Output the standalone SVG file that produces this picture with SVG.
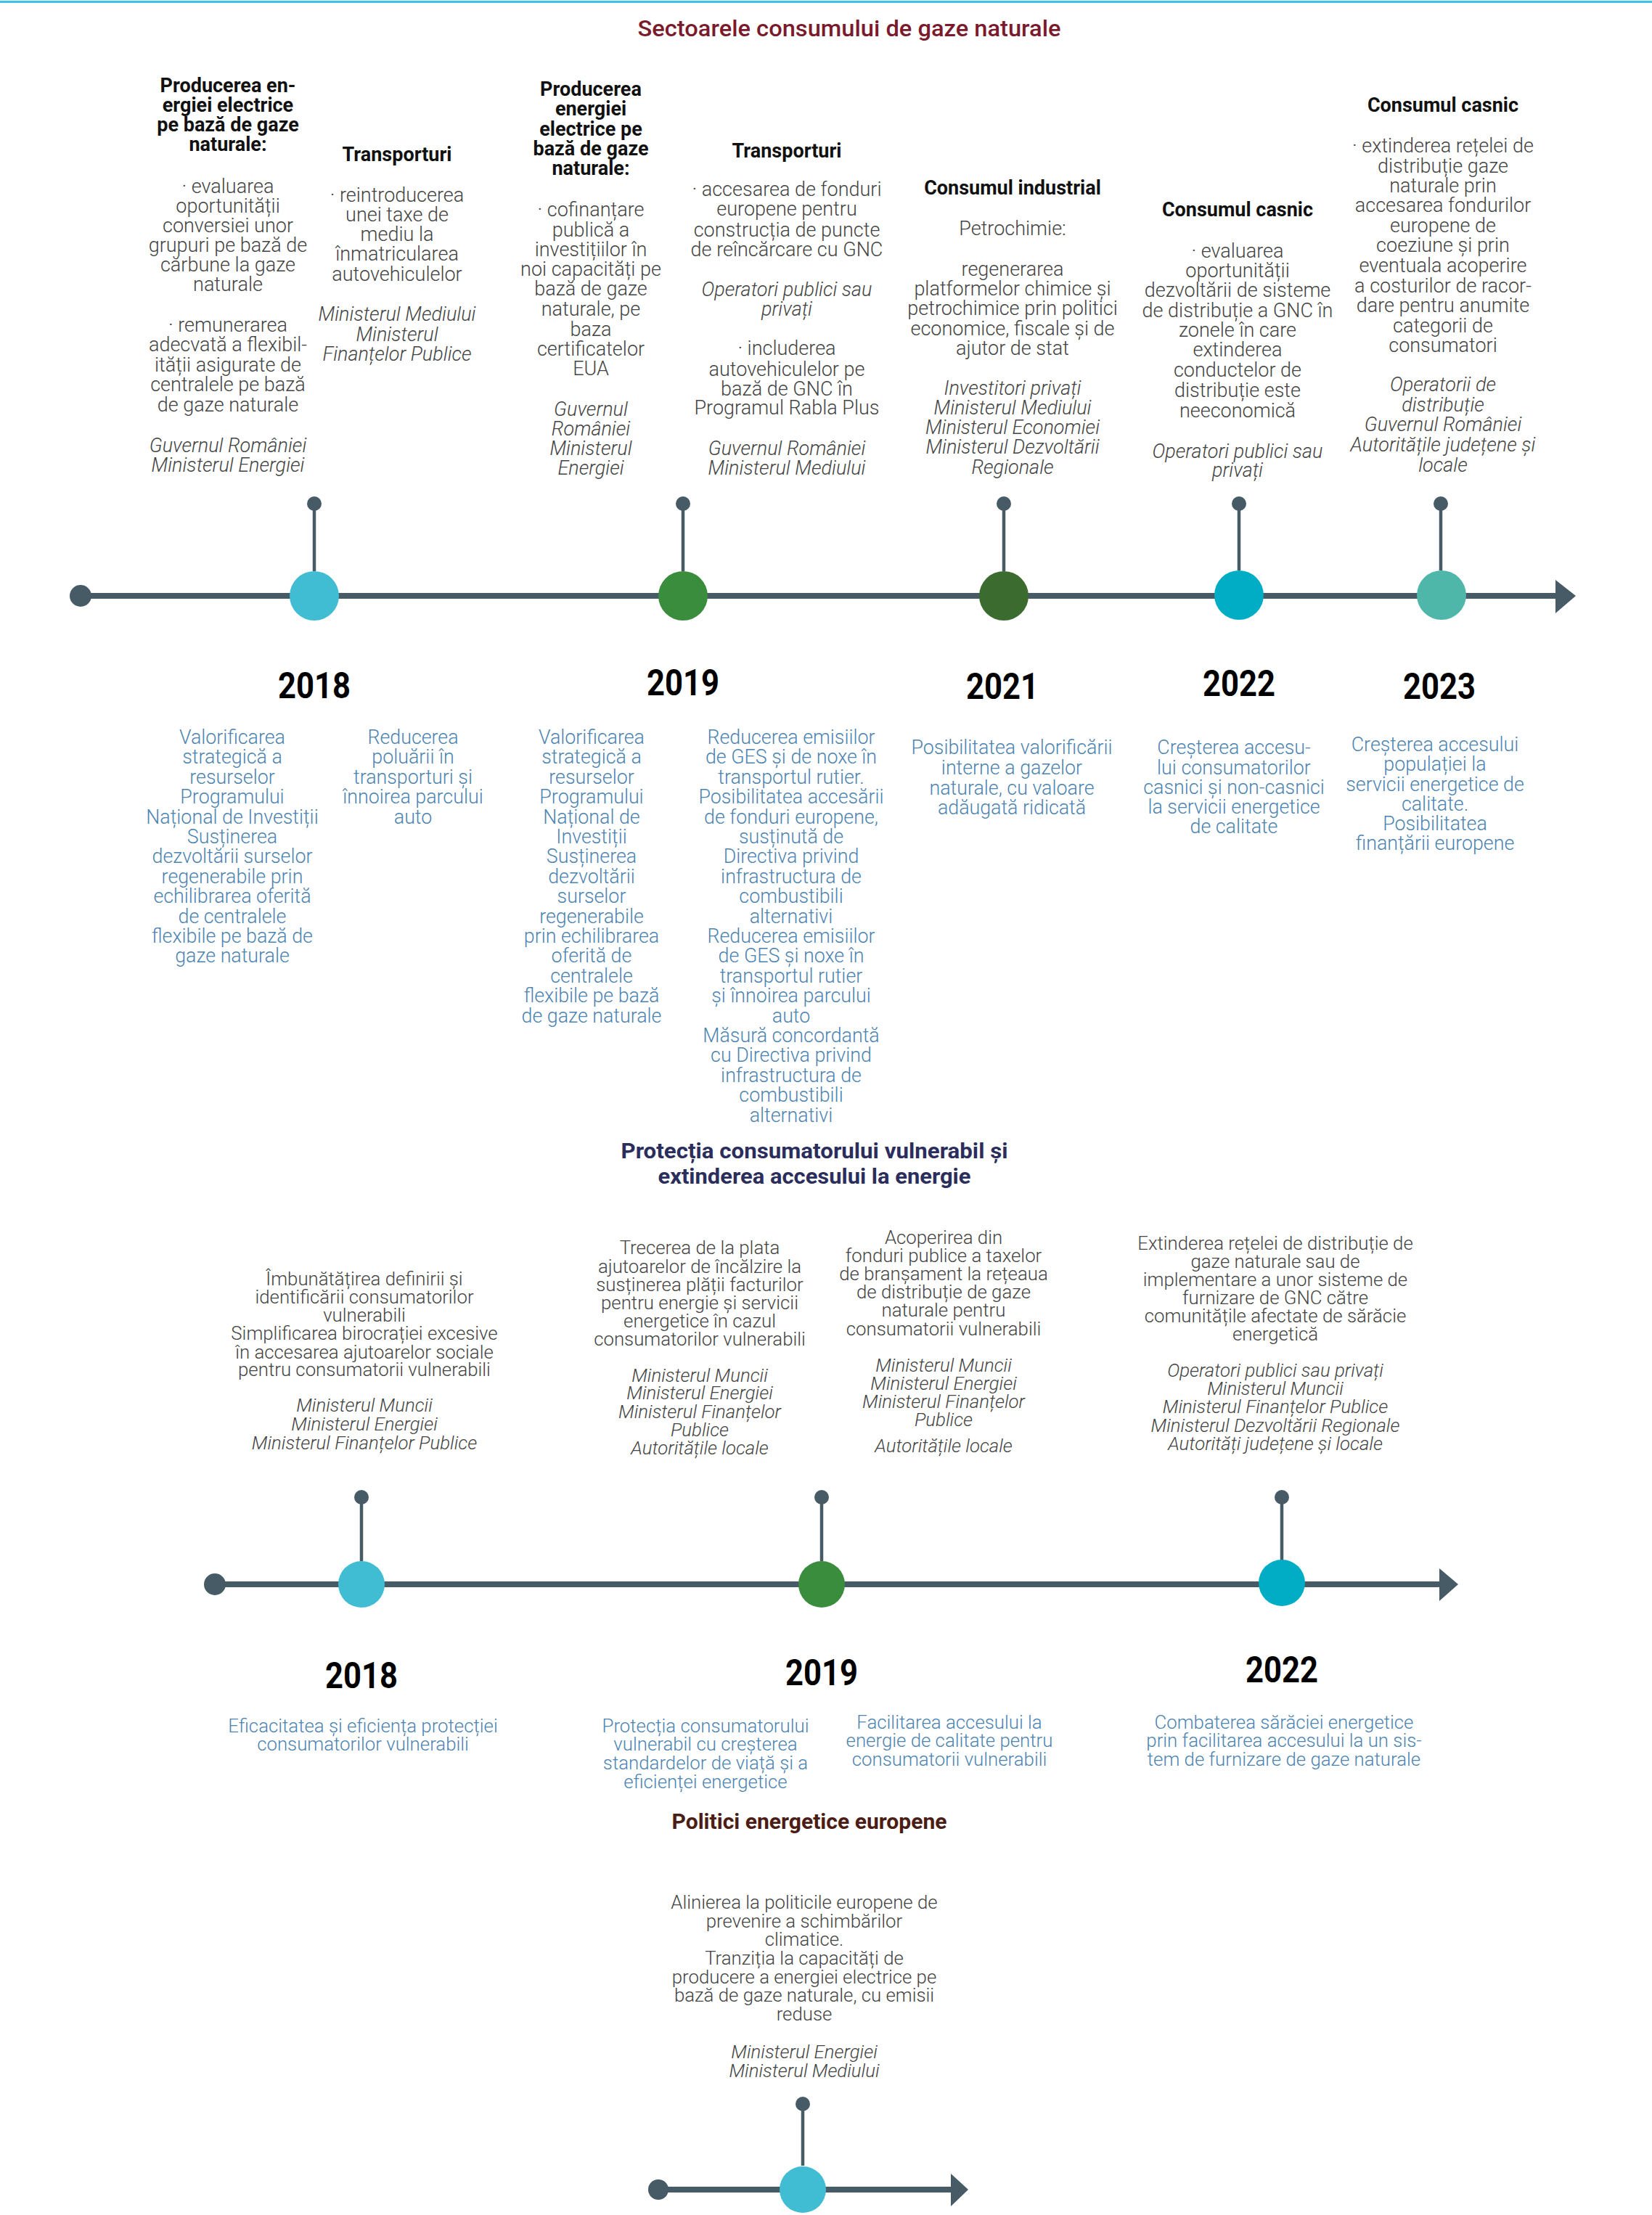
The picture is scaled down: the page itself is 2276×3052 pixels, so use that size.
<svg xmlns="http://www.w3.org/2000/svg" width="2276" height="3052" viewBox="0 0 2276 3052">
<style>
text{font-family:Roboto,"Liberation Sans",sans-serif;text-anchor:middle}
.t{font-size:27px;font-weight:300;fill:#444}
.s{font-size:25.8px;font-weight:300;fill:#444}
.i{font-style:italic}
.h{font-size:27px;font-weight:700;fill:#111}
.bl{font-size:26.8px;font-weight:300;fill:#4d84b1}
.bs{font-size:25.8px;font-weight:300;fill:#4d84b1}
.y{font-size:50px;font-weight:700;fill:#000}
.axis{stroke:#475b66;stroke-width:8;fill:none}
.stem{stroke:#475b66;stroke-width:4.5}
.dk{fill:#475b66}
</style>
<rect width="2276" height="3052" fill="#fff"/>
<rect x="0" y="1" width="2276" height="3" fill="#3ec3e6"/>
<text x="1170" y="50" style="font-size:32px;font-weight:500;fill:#7b1a2c" textLength="583" lengthAdjust="spacingAndGlyphs">Sectoarele consumului de gaze naturale</text>

<g id="connectors">
<line class="axis" x1="111" y1="821" x2="2150" y2="821"/>
<polygon class="dk" points="2143,799 2171,821 2143,845"/>
<circle class="dk" cx="111" cy="821" r="15"/>
<line class="axis" x1="296" y1="2183" x2="1990" y2="2183"/>
<polygon class="dk" points="1983,2161 2009,2183 1983,2206"/>
<circle class="dk" cx="296" cy="2183" r="15"/>
<line class="axis" x1="907" y1="3017" x2="1315" y2="3017"/>
<polygon class="dk" points="1310,2995 1334,3017 1310,3040"/>
<circle class="dk" cx="907" cy="3017" r="14"/>
</g>

<!-- Timeline 1 -->
<g id="n2018a">
<line class="stem" x1="433" y1="694" x2="433" y2="787"/>
<circle class="dk" cx="433" cy="694" r="10"/>
<circle cx="433" cy="821" r="34" fill="#40bdd3"/>
<text class="y" x="433" y="962" textLength="100" lengthAdjust="spacingAndGlyphs">2018</text>
<text class="h"><tspan x="314" y="127">Producerea en-</tspan><tspan x="314" y="154">ergiei electrice</tspan><tspan x="314" y="181">pe bază de gaze</tspan><tspan x="314" y="208">naturale:</tspan></text>
<text class="t"><tspan x="314" y="266">· evaluarea</tspan><tspan x="314" y="293">oportunității</tspan><tspan x="314" y="320">conversiei unor</tspan><tspan x="314" y="347">grupuri pe bază de</tspan><tspan x="314" y="374">cărbune la gaze</tspan><tspan x="314" y="401">naturale</tspan><tspan x="314" y="457">· remunerarea</tspan><tspan x="314" y="484">adecvată a flexibil-</tspan><tspan x="314" y="512">ității asigurate de</tspan><tspan x="314" y="539">centralele pe bază</tspan><tspan x="314" y="567">de gaze naturale</tspan></text>
<text class="t i"><tspan x="314" y="623">Guvernul României</tspan><tspan x="314" y="650">Ministerul Energiei</tspan></text>
<text class="h"><tspan x="547" y="222">Transporturi</tspan></text>
<text class="t"><tspan x="547" y="278">· reintroducerea</tspan><tspan x="547" y="305">unei taxe de</tspan><tspan x="547" y="332">mediu la</tspan><tspan x="547" y="359">înmatricularea</tspan><tspan x="547" y="387">autovehiculelor</tspan></text>
<text class="t i"><tspan x="547" y="442">Ministerul Mediului</tspan><tspan x="547" y="470">Ministerul</tspan><tspan x="547" y="497">Finanțelor Publice</tspan></text>
<text class="bl"><tspan x="320" y="1025">Valorificarea</tspan><tspan x="320" y="1052.4">strategică a</tspan><tspan x="320" y="1079.8">resurselor</tspan><tspan x="320" y="1107.2">Programului</tspan><tspan x="320" y="1134.6">Național de Investiții</tspan><tspan x="320" y="1162">Susținerea</tspan><tspan x="320" y="1189.4">dezvoltării surselor</tspan><tspan x="320" y="1216.8">regenerabile prin</tspan><tspan x="320" y="1244.2">echilibrarea oferită</tspan><tspan x="320" y="1271.6">de centralele</tspan><tspan x="320" y="1299">flexibile pe bază de</tspan><tspan x="320" y="1326.4">gaze naturale</tspan></text>
<text class="bl"><tspan x="569" y="1025">Reducerea</tspan><tspan x="569" y="1052.4">poluării în</tspan><tspan x="569" y="1079.8">transporturi și</tspan><tspan x="569" y="1107.2">înnoirea parcului</tspan><tspan x="569" y="1134.6">auto</tspan></text>
</g>

<g id="n2019a">
<line class="stem" x1="941" y1="694" x2="941" y2="787"/>
<circle class="dk" cx="941" cy="694" r="10"/>
<circle cx="941" cy="821" r="34" fill="#3a8d3c"/>
<text class="y" x="941" y="958" textLength="100" lengthAdjust="spacingAndGlyphs">2019</text>
<text class="h"><tspan x="814" y="132">Producerea</tspan><tspan x="814" y="159">energiei</tspan><tspan x="814" y="187">electrice pe</tspan><tspan x="814" y="214">bază de gaze</tspan><tspan x="814" y="241">naturale:</tspan></text>
<text class="t"><tspan x="814" y="298">· cofinanțare</tspan><tspan x="814" y="326">publică a</tspan><tspan x="814" y="353">investițiilor în</tspan><tspan x="814" y="380">noi capacități pe</tspan><tspan x="814" y="407">bază de gaze</tspan><tspan x="814" y="435">naturale, pe</tspan><tspan x="814" y="463">baza</tspan><tspan x="814" y="490">certificatelor</tspan><tspan x="814" y="517">EUA</tspan></text>
<text class="t i"><tspan x="814" y="573">Guvernul</tspan><tspan x="814" y="600">României</tspan><tspan x="814" y="627">Ministerul</tspan><tspan x="814" y="654">Energiei</tspan></text>
<text class="h"><tspan x="1084" y="217">Transporturi</tspan></text>
<text class="t"><tspan x="1084" y="270">· accesarea de fonduri</tspan><tspan x="1084" y="297">europene pentru</tspan><tspan x="1084" y="326">construcția de puncte</tspan><tspan x="1084" y="353">de reîncărcare cu GNC</tspan></text>
<text class="t i"><tspan x="1084" y="408">Operatori publici sau</tspan><tspan x="1084" y="435">privați</tspan></text>
<text class="t"><tspan x="1084" y="489">· includerea</tspan><tspan x="1084" y="518">autovehiculelor pe</tspan><tspan x="1084" y="545">bază de GNC în</tspan><tspan x="1084" y="571">Programul Rabla Plus</tspan></text>
<text class="t i"><tspan x="1084" y="627">Guvernul României</tspan><tspan x="1084" y="654">Ministerul Mediului</tspan></text>
<text class="bl"><tspan x="815" y="1025">Valorificarea</tspan><tspan x="815" y="1052.4">strategică a</tspan><tspan x="815" y="1079.8">resurselor</tspan><tspan x="815" y="1107.2">Programului</tspan><tspan x="815" y="1134.6">Național de</tspan><tspan x="815" y="1162">Investiții</tspan><tspan x="815" y="1189.4">Susținerea</tspan><tspan x="815" y="1216.8">dezvoltării</tspan><tspan x="815" y="1244.2">surselor</tspan><tspan x="815" y="1271.6">regenerabile</tspan><tspan x="815" y="1299">prin echilibrarea</tspan><tspan x="815" y="1326.4">oferită de</tspan><tspan x="815" y="1353.8">centralele</tspan><tspan x="815" y="1381.2">flexibile pe bază</tspan><tspan x="815" y="1408.6">de gaze naturale</tspan></text>
<text class="bl"><tspan x="1090" y="1025">Reducerea emisiilor</tspan><tspan x="1090" y="1052.4">de GES și de noxe în</tspan><tspan x="1090" y="1079.8">transportul rutier.</tspan><tspan x="1090" y="1107.2">Posibilitatea accesării</tspan><tspan x="1090" y="1134.6">de fonduri europene,</tspan><tspan x="1090" y="1162">susținută de</tspan><tspan x="1090" y="1189.4">Directiva privind</tspan><tspan x="1090" y="1216.8">infrastructura de</tspan><tspan x="1090" y="1244.2">combustibili</tspan><tspan x="1090" y="1271.6">alternativi</tspan><tspan x="1090" y="1299">Reducerea emisiilor</tspan><tspan x="1090" y="1326.4">de GES și noxe în</tspan><tspan x="1090" y="1353.8">transportul rutier</tspan><tspan x="1090" y="1381.2">și înnoirea parcului</tspan><tspan x="1090" y="1408.6">auto</tspan><tspan x="1090" y="1436">Măsură concordantă</tspan><tspan x="1090" y="1463.4">cu Directiva privind</tspan><tspan x="1090" y="1490.8">infrastructura de</tspan><tspan x="1090" y="1518.2">combustibili</tspan><tspan x="1090" y="1545.6">alternativi</tspan></text>
</g>

<g id="n2021a">
<line class="stem" x1="1383" y1="694" x2="1383" y2="787"/>
<circle class="dk" cx="1383" cy="694" r="10"/>
<circle cx="1383" cy="821" r="34" fill="#3c6b2f"/>
<text class="y" x="1381" y="963" textLength="100" lengthAdjust="spacingAndGlyphs">2021</text>
<text class="h"><tspan x="1395" y="268">Consumul industrial</tspan></text>
<text class="t"><tspan x="1395" y="324">Petrochimie:</tspan><tspan x="1395" y="380">regenerarea</tspan><tspan x="1395" y="407">platformelor chimice și</tspan><tspan x="1395" y="434">petrochimice prin politici</tspan><tspan x="1395" y="462">economice, fiscale și de</tspan><tspan x="1395" y="489">ajutor de stat</tspan></text>
<text class="t i"><tspan x="1395" y="544">Investitori privați</tspan><tspan x="1395" y="571">Ministerul Mediului</tspan><tspan x="1395" y="598">Ministerul Economiei</tspan><tspan x="1395" y="625">Ministerul Dezvoltării</tspan><tspan x="1395" y="653">Regionale</tspan></text>
<text class="bl"><tspan x="1394" y="1039">Posibilitatea valorificării</tspan><tspan x="1394" y="1067">interne a gazelor</tspan><tspan x="1394" y="1095">naturale, cu valoare</tspan><tspan x="1394" y="1122">adăugată ridicată</tspan></text>
</g>

<g id="n2022a">
<line class="stem" x1="1707" y1="694" x2="1707" y2="786"/>
<circle class="dk" cx="1707" cy="694" r="10"/>
<circle cx="1707" cy="820" r="34" fill="#00adc5"/>
<text class="y" x="1707" y="959" textLength="100" lengthAdjust="spacingAndGlyphs">2022</text>
<text class="h"><tspan x="1705" y="298">Consumul casnic</tspan></text>
<text class="t"><tspan x="1705" y="355">· evaluarea</tspan><tspan x="1705" y="382">oportunității</tspan><tspan x="1705" y="409">dezvoltării de sisteme</tspan><tspan x="1705" y="437">de distribuție a GNC în</tspan><tspan x="1705" y="464">zonele în care</tspan><tspan x="1705" y="491">extinderea</tspan><tspan x="1705" y="519">conductelor de</tspan><tspan x="1705" y="547">distribuție este</tspan><tspan x="1705" y="575">neeconomică</tspan></text>
<text class="t i"><tspan x="1705" y="631">Operatori publici sau</tspan><tspan x="1705" y="657">privați</tspan></text>
<text class="bl"><tspan x="1700" y="1039">Creșterea accesu-</tspan><tspan x="1700" y="1067">lui consumatorilor</tspan><tspan x="1700" y="1094">casnici și non-casnici</tspan><tspan x="1700" y="1121">la servicii energetice</tspan><tspan x="1700" y="1148">de calitate</tspan></text>
</g>

<g id="n2023a">
<line class="stem" x1="1985" y1="694" x2="1985" y2="786"/>
<circle class="dk" cx="1985" cy="694" r="10"/>
<circle cx="1986" cy="820" r="34" fill="#4fb6aa"/>
<text class="y" x="1983" y="963" textLength="100" lengthAdjust="spacingAndGlyphs">2023</text>
<text class="h"><tspan x="1988" y="154">Consumul casnic</tspan></text>
<text class="t"><tspan x="1988" y="210">· extinderea rețelei de</tspan><tspan x="1988" y="238">distribuție gaze</tspan><tspan x="1988" y="265">naturale prin</tspan><tspan x="1988" y="292">accesarea fondurilor</tspan><tspan x="1988" y="320">europene de</tspan><tspan x="1988" y="347">coeziune și prin</tspan><tspan x="1988" y="375">eventuala acoperire</tspan><tspan x="1988" y="403">a costurilor de racor-</tspan><tspan x="1988" y="430">dare pentru anumite</tspan><tspan x="1988" y="458">categorii de</tspan><tspan x="1988" y="485">consumatori</tspan></text>
<text class="t i"><tspan x="1988" y="539">Operatorii de</tspan><tspan x="1988" y="567">distribuție</tspan><tspan x="1988" y="594">Guvernul României</tspan><tspan x="1988" y="622">Autoritățile județene și</tspan><tspan x="1988" y="650">locale</tspan></text>
<text class="bl"><tspan x="1977" y="1035">Creșterea accesului</tspan><tspan x="1977" y="1062">populației la</tspan><tspan x="1977" y="1090">servicii energetice de</tspan><tspan x="1977" y="1117">calitate.</tspan><tspan x="1977" y="1144">Posibilitatea</tspan><tspan x="1977" y="1171">finanțării europene</tspan></text>
</g>

<!-- Section 2 -->
<text style="font-size:29px;font-weight:700;fill:#2b2e5c"><tspan x="1122" y="1596" textLength="533" lengthAdjust="spacingAndGlyphs">Protecția consumatorului vulnerabil și</tspan></text>
<text style="font-size:29px;font-weight:700;fill:#2b2e5c"><tspan x="1122" y="1631" textLength="431" lengthAdjust="spacingAndGlyphs">extinderea accesului la energie</tspan></text>

<g id="n2018b">
<line class="stem" x1="498" y1="2063" x2="498" y2="2151"/>
<circle class="dk" cx="498" cy="2063" r="10"/>
<circle cx="498" cy="2183" r="32" fill="#40bdd3"/>
<text class="y" x="498" y="2326" textLength="100" lengthAdjust="spacingAndGlyphs">2018</text>
<text class="s"><tspan x="502" y="1771">Îmbunătățirea definirii și</tspan><tspan x="502" y="1796">identificării consumatorilor</tspan><tspan x="502" y="1821">vulnerabili</tspan><tspan x="502" y="1846">Simplificarea birocrației excesive</tspan><tspan x="502" y="1872">în accesarea ajutoarelor sociale</tspan><tspan x="502" y="1896">pentru consumatorii vulnerabili</tspan></text>
<text class="s i"><tspan x="502" y="1945">Ministerul Muncii</tspan><tspan x="502" y="1971">Ministerul Energiei</tspan><tspan x="502" y="1997">Ministerul Finanțelor Publice</tspan></text>
<text class="bs"><tspan x="500" y="2387">Eficacitatea și eficiența protecției</tspan><tspan x="500" y="2412">consumatorilor vulnerabili</tspan></text>
</g>

<g id="n2019b">
<line class="stem" x1="1132" y1="2063" x2="1132" y2="2151"/>
<circle class="dk" cx="1132" cy="2063" r="10"/>
<circle cx="1132" cy="2183" r="32" fill="#3a8d3c"/>
<text class="y" x="1132" y="2322" textLength="100" lengthAdjust="spacingAndGlyphs">2019</text>
<text class="s"><tspan x="964" y="1728">Trecerea de la plata</tspan><tspan x="964" y="1754">ajutoarelor de încălzire la</tspan><tspan x="964" y="1779">susținerea plății facturilor</tspan><tspan x="964" y="1804">pentru energie și servicii</tspan><tspan x="964" y="1829">energetice în cazul</tspan><tspan x="964" y="1854">consumatorilor vulnerabili</tspan></text>
<text class="s i"><tspan x="964" y="1904">Ministerul Muncii</tspan><tspan x="964" y="1928">Ministerul Energiei</tspan><tspan x="964" y="1954">Ministerul Finanțelor</tspan><tspan x="964" y="1979">Publice</tspan><tspan x="964" y="2004">Autoritățile locale</tspan></text>
<text class="s"><tspan x="1300" y="1714">Acoperirea din</tspan><tspan x="1300" y="1739">fonduri publice a taxelor</tspan><tspan x="1300" y="1764">de branșament la rețeaua</tspan><tspan x="1300" y="1789">de distribuție de gaze</tspan><tspan x="1300" y="1814">naturale pentru</tspan><tspan x="1300" y="1840">consumatorii vulnerabili</tspan></text>
<text class="s i"><tspan x="1300" y="1890">Ministerul Muncii</tspan><tspan x="1300" y="1915">Ministerul Energiei</tspan><tspan x="1300" y="1940">Ministerul Finanțelor</tspan><tspan x="1300" y="1965">Publice</tspan><tspan x="1300" y="2001">Autoritățile locale</tspan></text>
<text class="bs"><tspan x="972" y="2387">Protecția consumatorului</tspan><tspan x="972" y="2412">vulnerabil cu creșterea</tspan><tspan x="972" y="2438">standardelor de viață și a</tspan><tspan x="972" y="2464">eficienței energetice</tspan></text>
<text class="bs"><tspan x="1308" y="2382">Facilitarea accesului la</tspan><tspan x="1308" y="2407">energie de calitate pentru</tspan><tspan x="1308" y="2433">consumatorii vulnerabili</tspan></text>
</g>

<g id="n2022b">
<line class="stem" x1="1766" y1="2063" x2="1766" y2="2150"/>
<circle class="dk" cx="1766" cy="2063" r="10"/>
<circle cx="1766" cy="2181" r="32" fill="#00adc5"/>
<text class="y" x="1766" y="2318" textLength="100" lengthAdjust="spacingAndGlyphs">2022</text>
<text class="s"><tspan x="1757" y="1722">Extinderea rețelei de distribuție de</tspan><tspan x="1757" y="1747">gaze naturale sau de</tspan><tspan x="1757" y="1772">implementare a unor sisteme de</tspan><tspan x="1757" y="1797">furnizare de GNC către</tspan><tspan x="1757" y="1822">comunitățile afectate de sărăcie</tspan><tspan x="1757" y="1847">energetică</tspan></text>
<text class="s i"><tspan x="1757" y="1897">Operatori publici sau privați</tspan><tspan x="1757" y="1922">Ministerul Muncii</tspan><tspan x="1757" y="1947">Ministerul Finanțelor Publice</tspan><tspan x="1757" y="1973">Ministerul Dezvoltării Regionale</tspan><tspan x="1757" y="1998">Autorități județene și locale</tspan></text>
<text class="bs"><tspan x="1769" y="2382">Combaterea sărăciei energetice</tspan><tspan x="1769" y="2407">prin facilitarea accesului la un sis-</tspan><tspan x="1769" y="2433">tem de furnizare de gaze naturale</tspan></text>
</g>

<!-- Section 3 -->
<text x="1115" y="2520" style="font-size:30px;font-weight:700;fill:#4b1d14" textLength="379" lengthAdjust="spacingAndGlyphs">Politici energetice europene</text>
<g id="n_eu">
<line class="stem" x1="1106" y1="2899" x2="1106" y2="2984"/>
<circle class="dk" cx="1106" cy="2899" r="10"/>
<circle cx="1106" cy="3017" r="32" fill="#40bdd3"/>
<text class="s"><tspan x="1108" y="2630">Alinierea la politicile europene de</tspan><tspan x="1108" y="2656">prevenire a schimbărilor</tspan><tspan x="1108" y="2681">climatice.</tspan><tspan x="1108" y="2707">Tranziția la capacități de</tspan><tspan x="1108" y="2733">producere a energiei electrice pe</tspan><tspan x="1108" y="2758">bază de gaze naturale, cu emisii</tspan><tspan x="1108" y="2784">reduse</tspan></text>
<text class="s i"><tspan x="1108" y="2836">Ministerul Energiei</tspan><tspan x="1108" y="2862">Ministerul Mediului</tspan></text>
</g>
</svg>
